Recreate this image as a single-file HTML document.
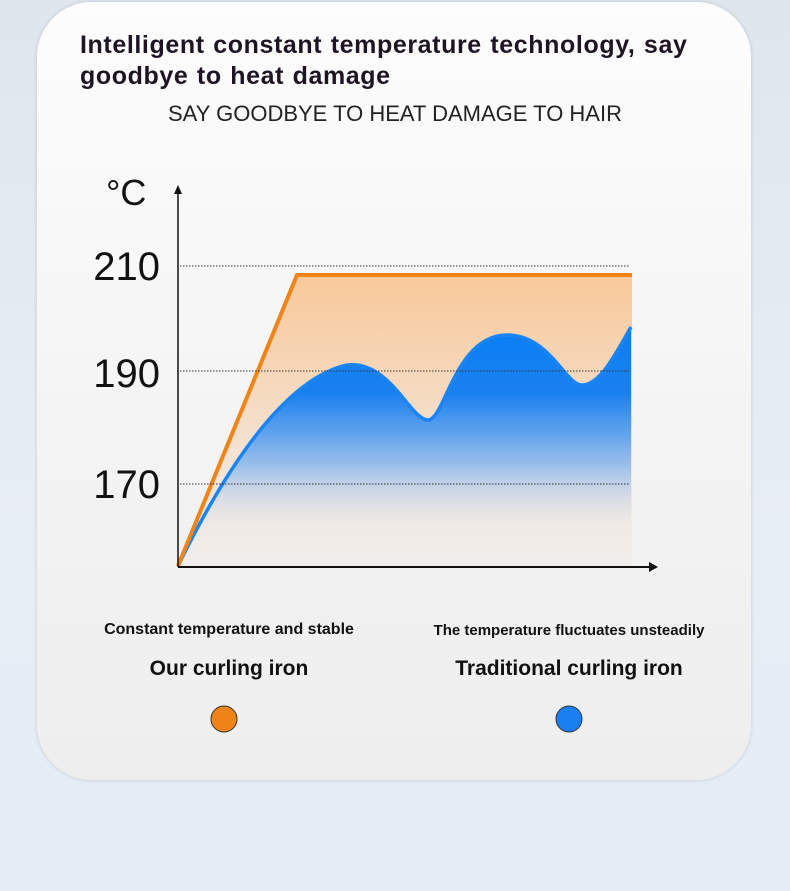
<!DOCTYPE html>
<html><head><meta charset="utf-8"><style>
body{margin:0;width:790px;height:891px;overflow:hidden;background:linear-gradient(180deg,#dfe6ee 0%,#e8eef5 60%,#e4ecf6 100%);font-family:"Liberation Sans",sans-serif;position:relative}
.card{position:absolute;left:37px;top:2px;width:714px;height:778px;border-radius:55px;background:linear-gradient(180deg,#fdfdfd 0%,#f3f3f3 60%,#eeeeee 100%);box-shadow:0 0 4px rgba(0,0,0,0.15)}
.t{position:absolute;left:80px;top:30px;font-size:25px;font-weight:bold;color:#1e1424;line-height:31px;letter-spacing:0.6px;word-spacing:1px}
.s{position:absolute;left:0;width:790px;text-align:center;top:101px;font-size:22px;color:#222}
.l{position:absolute;font-weight:bold;color:#111;text-align:center;white-space:nowrap}
</style></head><body>
<div class="card"></div>
<div class="t">Intelligent constant temperature technology, say<br>goodbye to heat damage</div>
<div class="s">SAY GOODBYE TO HEAT DAMAGE TO HAIR</div>
<svg width="790" height="891" style="position:absolute;left:0;top:0">
<defs>
<linearGradient id="og" x1="0" y1="275" x2="0" y2="566" gradientUnits="userSpaceOnUse"><stop offset="0" stop-color="#f8c99a"/><stop offset="0.6" stop-color="#f4e2d2"/><stop offset="1" stop-color="#f0eeec"/></linearGradient>
<linearGradient id="bg" x1="0" y1="330" x2="0" y2="540" gradientUnits="userSpaceOnUse"><stop offset="0" stop-color="#0a7ff5"/><stop offset="0.3" stop-color="#1a80f0"/><stop offset="0.65" stop-color="#9dc0ea"/><stop offset="1" stop-color="#efefef" stop-opacity="0"/></linearGradient>
</defs>
<polygon points="178,566 297,275 632,275 632,566" fill="url(#og)"/>
<path d="M178,566 C220,480 280,380 347,365 C390,360 410,420 428,420 C445,420 455,335 507,335 C550,335 565,385 582,385 C600,385 615,355 631,327 L631,566 Z" fill="url(#bg)"/>
<path d="M178,566 C220,480 280,380 347,365 C390,360 410,420 428,420 C445,420 455,335 507,335 C550,335 565,385 582,385 C600,385 615,355 631,327" fill="none" stroke="#1a84f5" stroke-width="3.5"/>
<polyline points="178,566 297,275 632,275" fill="none" stroke="#f08418" stroke-width="4"/>
<g stroke="#333" stroke-width="1" stroke-dasharray="1.5,1.5"><line x1="180" y1="266" x2="630" y2="266"/><line x1="180" y1="371" x2="630" y2="371"/><line x1="180" y1="484" x2="630" y2="484"/></g>
<line x1="178" y1="192" x2="178" y2="567" stroke="#111" stroke-width="1.5"/>
<polygon points="178,185 174,194 182,194" fill="#111"/>
<line x1="178" y1="567" x2="650" y2="567" stroke="#111" stroke-width="2"/>
<polygon points="658,567 649,562 649,572" fill="#111"/>
<g font-family="Liberation Sans,sans-serif" font-size="40" fill="#111" text-anchor="end"><text x="160" y="280">210</text><text x="160" y="387">190</text><text x="160" y="498">170</text></g>
<text x="106" y="205" font-size="36" fill="#111" font-family="Liberation Sans,sans-serif">°C</text>
<circle cx="224" cy="719" r="13" fill="#f08418" stroke="#333" stroke-width="1"/>
<circle cx="569" cy="719" r="13" fill="#1a7ff0" stroke="#333" stroke-width="1"/>
</svg>
<div class="l" style="left:72px;width:314px;top:621px;font-size:16px">Constant temperature and stable</div>
<div class="l" style="left:412px;width:314px;top:622px;font-size:15px">The temperature fluctuates unsteadily</div>
<div class="l" style="left:72px;width:314px;top:657px;font-size:21px">Our curling iron</div>
<div class="l" style="left:412px;width:314px;top:657px;font-size:21px">Traditional curling iron</div>
</body></html>
